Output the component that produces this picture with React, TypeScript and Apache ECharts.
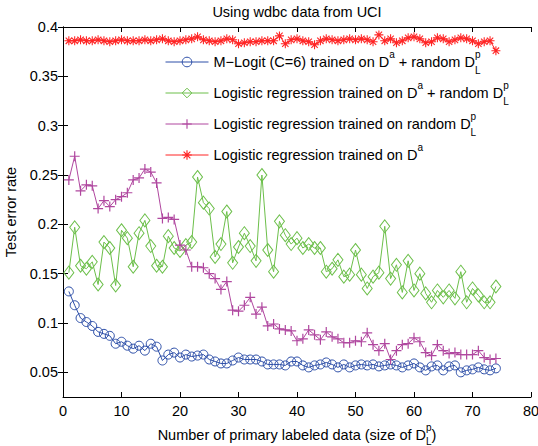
import React, { useEffect, useRef } from "react";
import * as echarts from "echarts";

const xValues = [
  1, 2, 3, 4, 5, 6, 7, 8, 9, 10, 11, 12, 13, 14, 15, 16, 17, 18, 19, 20,
  21, 22, 23, 24, 25, 26, 27, 28, 29, 30, 31, 32, 33, 34, 35, 36, 37, 38, 39, 40,
  41, 42, 43, 44, 45, 46, 47, 48, 49, 50, 51, 52, 53, 54, 55, 56, 57, 58, 59, 60,
  61, 62, 63, 64, 65, 66, 67, 68, 69, 70, 71, 72, 73, 74,
];

const mLogit = [
  0.132, 0.118, 0.105, 0.101, 0.097, 0.091, 0.089, 0.087, 0.079, 0.081,
  0.077, 0.074, 0.077, 0.072, 0.079, 0.076, 0.062, 0.068, 0.07, 0.065,
  0.068, 0.066, 0.067, 0.068, 0.063, 0.061, 0.059, 0.059, 0.062, 0.065,
  0.063, 0.063, 0.063, 0.061, 0.058, 0.058, 0.058, 0.057, 0.061, 0.061,
  0.057, 0.055, 0.057, 0.058, 0.06, 0.058, 0.055, 0.058, 0.055, 0.057,
  0.058, 0.057, 0.058, 0.056, 0.057, 0.058, 0.057, 0.055, 0.057, 0.059,
  0.055, 0.052, 0.056, 0.057, 0.052, 0.056, 0.057, 0.05, 0.052, 0.053,
  0.055, 0.053, 0.052, 0.054,
];

const logRegDaRandom = [
  0.151, 0.197, 0.158, 0.155, 0.162, 0.139, 0.182, 0.176, 0.138, 0.194,
  0.186, 0.157, 0.191, 0.204, 0.178, 0.158, 0.157, 0.188, 0.176, 0.173,
  0.179, 0.182, 0.248, 0.222, 0.216, 0.167, 0.18, 0.213, 0.161, 0.177,
  0.191, 0.178, 0.163, 0.25, 0.174, 0.152, 0.203, 0.189, 0.18, 0.186,
  0.176, 0.18, 0.176, 0.176, 0.152, 0.155, 0.164, 0.147, 0.149, 0.174,
  0.149, 0.135, 0.147, 0.151, 0.198, 0.145, 0.159, 0.131, 0.163, 0.133,
  0.15, 0.13, 0.121, 0.133, 0.126, 0.133, 0.125, 0.152, 0.121, 0.135,
  0.128, 0.121, 0.121, 0.137,
];

const logRegRandom = [
  0.245, 0.269, 0.234, 0.24, 0.239, 0.216, 0.224, 0.218, 0.225, 0.228,
  0.232, 0.245, 0.247, 0.256, 0.253, 0.242, 0.206, 0.207, 0.205, 0.179,
  0.174, 0.157, 0.157, 0.156, 0.15, 0.145, 0.134, 0.142, 0.113, 0.112,
  0.118, 0.126, 0.109, 0.116, 0.097, 0.099, 0.094, 0.093, 0.092, 0.082,
  0.084, 0.093, 0.088, 0.083, 0.091, 0.086, 0.084, 0.08, 0.08, 0.082,
  0.081, 0.09, 0.078, 0.072, 0.079, 0.063, 0.072, 0.078, 0.079, 0.085,
  0.081, 0.07, 0.067, 0.078, 0.072, 0.069, 0.07, 0.068, 0.068, 0.068,
  0.072, 0.065, 0.063, 0.064,
];

const logRegDa = [
  0.386, 0.386, 0.387, 0.386, 0.386, 0.387, 0.386, 0.385, 0.386, 0.387,
  0.386, 0.386, 0.386, 0.387, 0.386, 0.387, 0.388, 0.386, 0.385, 0.386,
  0.387, 0.388, 0.39, 0.387, 0.386, 0.385, 0.386, 0.388, 0.387, 0.383,
  0.384, 0.385, 0.385, 0.386, 0.386, 0.386, 0.391, 0.383, 0.387, 0.388,
  0.386, 0.385, 0.382, 0.386, 0.388, 0.387, 0.386, 0.387, 0.388, 0.387,
  0.388, 0.387, 0.385, 0.392, 0.386, 0.388, 0.384, 0.386, 0.389, 0.39,
  0.388, 0.384, 0.385, 0.389, 0.388, 0.385, 0.387, 0.389, 0.388, 0.386,
  0.383, 0.385, 0.386, 0.376,
];

const xTicks = [0, 10, 20, 30, 40, 50, 60, 70, 80];
const yTicks = [0.05, 0.1, 0.15, 0.2, 0.25, 0.3, 0.35, 0.4];

const seriesNames = [
  "M−Logit (C=6) trained on Da + random DpL",
  "Logistic regression trained on Da + random DpL",
  "Logistic regression trained on random DpL",
  "Logistic regression trained on Da",
];
const legendRich = [
  "{t|M−Logit (C=6) trained on D}{sup|a}{t| + random D}{sup|p}{sub|L}",
  "{t|Logistic regression trained on D}{sup|a}{t| + random D}{sup|p}{sub|L}",
  "{t|Logistic regression trained on random D}{sup|p}{sub|L}",
  "{t|Logistic regression trained on D}{sup|a}",
];

const titleText = "Using wdbc data from UCI";
const xName = "{t|Number of primary labeled data (size of D}{sup|p}{sub|L}{t|)}";
const yName = "Test error rate";

const COLORS = ["#2c4ea8", "#6cbf4a", "#b0479f", "#ff2424"];
const FONT = "'Liberation Sans', Arial, Helvetica, sans-serif";
const FS = 14.5;

const PLUS =
  "path://M-0.12,-1H0.12V-0.12H1V0.12H0.12V1H-0.12V0.12H-1V-0.12H-0.12Z";
const STAR =
  "path://M-0.12,-1H0.12V-0.12H1V0.12H0.12V1H-0.12V0.12H-1V-0.12H-0.12Z" +
  "M-0.622,-0.792L0.792,0.622L0.622,0.792L-0.792,-0.622Z" +
  "M0.792,-0.622L-0.622,0.792L-0.792,0.622L0.622,-0.792Z";

function makeRich(lh: number) {
  return {
    t: { fontSize: FS, fontFamily: FONT, color: "#000", lineHeight: lh },
    sup: {
      fontSize: 10,
      fontFamily: FONT,
      color: "#000",
      lineHeight: 12,
      verticalAlign: "top",
    },
    sub: {
      fontSize: 10,
      fontFamily: FONT,
      color: "#000",
      lineHeight: 12,
      verticalAlign: "bottom",
      padding: [0, 0, 0, -5.6],
    },
  };
}

function pairs(ys: number[]) {
  return ys.map((y, i) => [xValues[i], y]);
}

export default function App() {
  const ref = useRef<HTMLDivElement>(null);

  useEffect(() => {
    if (!ref.current) return;
    const chart = echarts.init(ref.current, undefined, { renderer: "svg" });

    const axisLine = { show: true, lineStyle: { color: "#000", width: 1 } };
    const tickStyle = { inside: true, length: 5, lineStyle: { color: "#000", width: 1 } };

    const symbols = ["circle", "diamond", PLUS, STAR];
    const sizes: any[] = [9, [10, 13], 10, 9];
    const data = [mLogit, logRegDaRandom, logRegRandom, logRegDa];
    const hollow = [true, true, false, false];

    const series = data.map((ys, i) => ({
      name: seriesNames[i],
      type: "line",
      data: pairs(ys),
      symbol: symbols[i],
      symbolSize: sizes[i],
      showSymbol: true,
      lineStyle: { color: COLORS[i], width: 1 },
      itemStyle: hollow[i]
        ? { color: "rgba(0,0,0,0)", borderColor: COLORS[i], borderWidth: 1 }
        : { color: COLORS[i], borderWidth: 0 },
      emphasis: { disabled: true },
      z: 2 + i,
    }));

    chart.setOption({
      animation: false,
      backgroundColor: "#fff",
      title: {
        text: titleText,
        left: 297,
        textAlign: "center",
        top: 4,
        padding: 0,
        textStyle: { fontSize: FS, fontWeight: "normal", fontFamily: FONT, color: "#000" },
      },
      legend: {
        orient: "vertical",
        left: 160,
        top: 44,
        itemWidth: 43,
        itemHeight: 12,
        itemGap: 5,
        selectedMode: false,
        data: seriesNames.map((n, i) => ({
          name: n,
          itemStyle: hollow[i]
            ? { color: "rgba(0,0,0,0)", borderColor: COLORS[i], borderWidth: 1 }
            : { color: COLORS[i], borderWidth: 0 },
          lineStyle: { color: COLORS[i], width: 1 },
        })),
        formatter: (name: string) => legendRich[seriesNames.indexOf(name)],
        textStyle: { fontSize: FS, fontFamily: FONT, color: "#000", rich: makeRich(26) },
      },
      grid: { left: 63, right: 7, top: 27, bottom: 49, outerBoundsMode: "none" },
      xAxis: [
        {
          type: "value",
          min: 0,
          max: 80,
          interval: 10,
          position: "bottom",
          axisLine,
          axisTick: { ...tickStyle, customValues: xTicks },
          axisLabel: {
            customValues: xTicks,
            color: "#000",
            fontSize: FS,
            fontFamily: FONT,
            margin: 6,
          },
          splitLine: { show: false },
          name: xName,
          nameLocation: "middle",
          nameGap: 19,
          nameTextStyle: { rich: makeRich(24), fontSize: FS, fontFamily: FONT, color: "#000" },
        },
        {
          type: "value",
          min: 0,
          max: 80,
          interval: 10,
          position: "top",
          axisLine,
          axisTick: { ...tickStyle, customValues: xTicks },
          axisLabel: { show: false },
          splitLine: { show: false },
        },
      ],
      yAxis: [
        {
          type: "value",
          min: 0.025,
          max: 0.4,
          position: "left",
          axisLine,
          axisTick: { ...tickStyle, customValues: yTicks },
          axisLabel: {
            customValues: yTicks,
            color: "#000",
            fontSize: FS,
            fontFamily: FONT,
            margin: 5,
          },
          splitLine: { show: false },
          name: yName,
          nameLocation: "middle",
          nameGap: 32,
          nameTextStyle: { fontSize: FS, fontFamily: FONT, color: "#000" },
        },
        {
          type: "value",
          min: 0.025,
          max: 0.4,
          position: "right",
          axisLine,
          axisTick: { ...tickStyle, customValues: yTicks },
          axisLabel: { show: false },
          splitLine: { show: false },
        },
      ],
      series,
    });

    return () => chart.dispose();
  }, []);

  return (
    <div
      ref={ref}
      style={{ position: "fixed", left: 0, top: 0, width: 538, height: 446 }}
    />
  );
}
